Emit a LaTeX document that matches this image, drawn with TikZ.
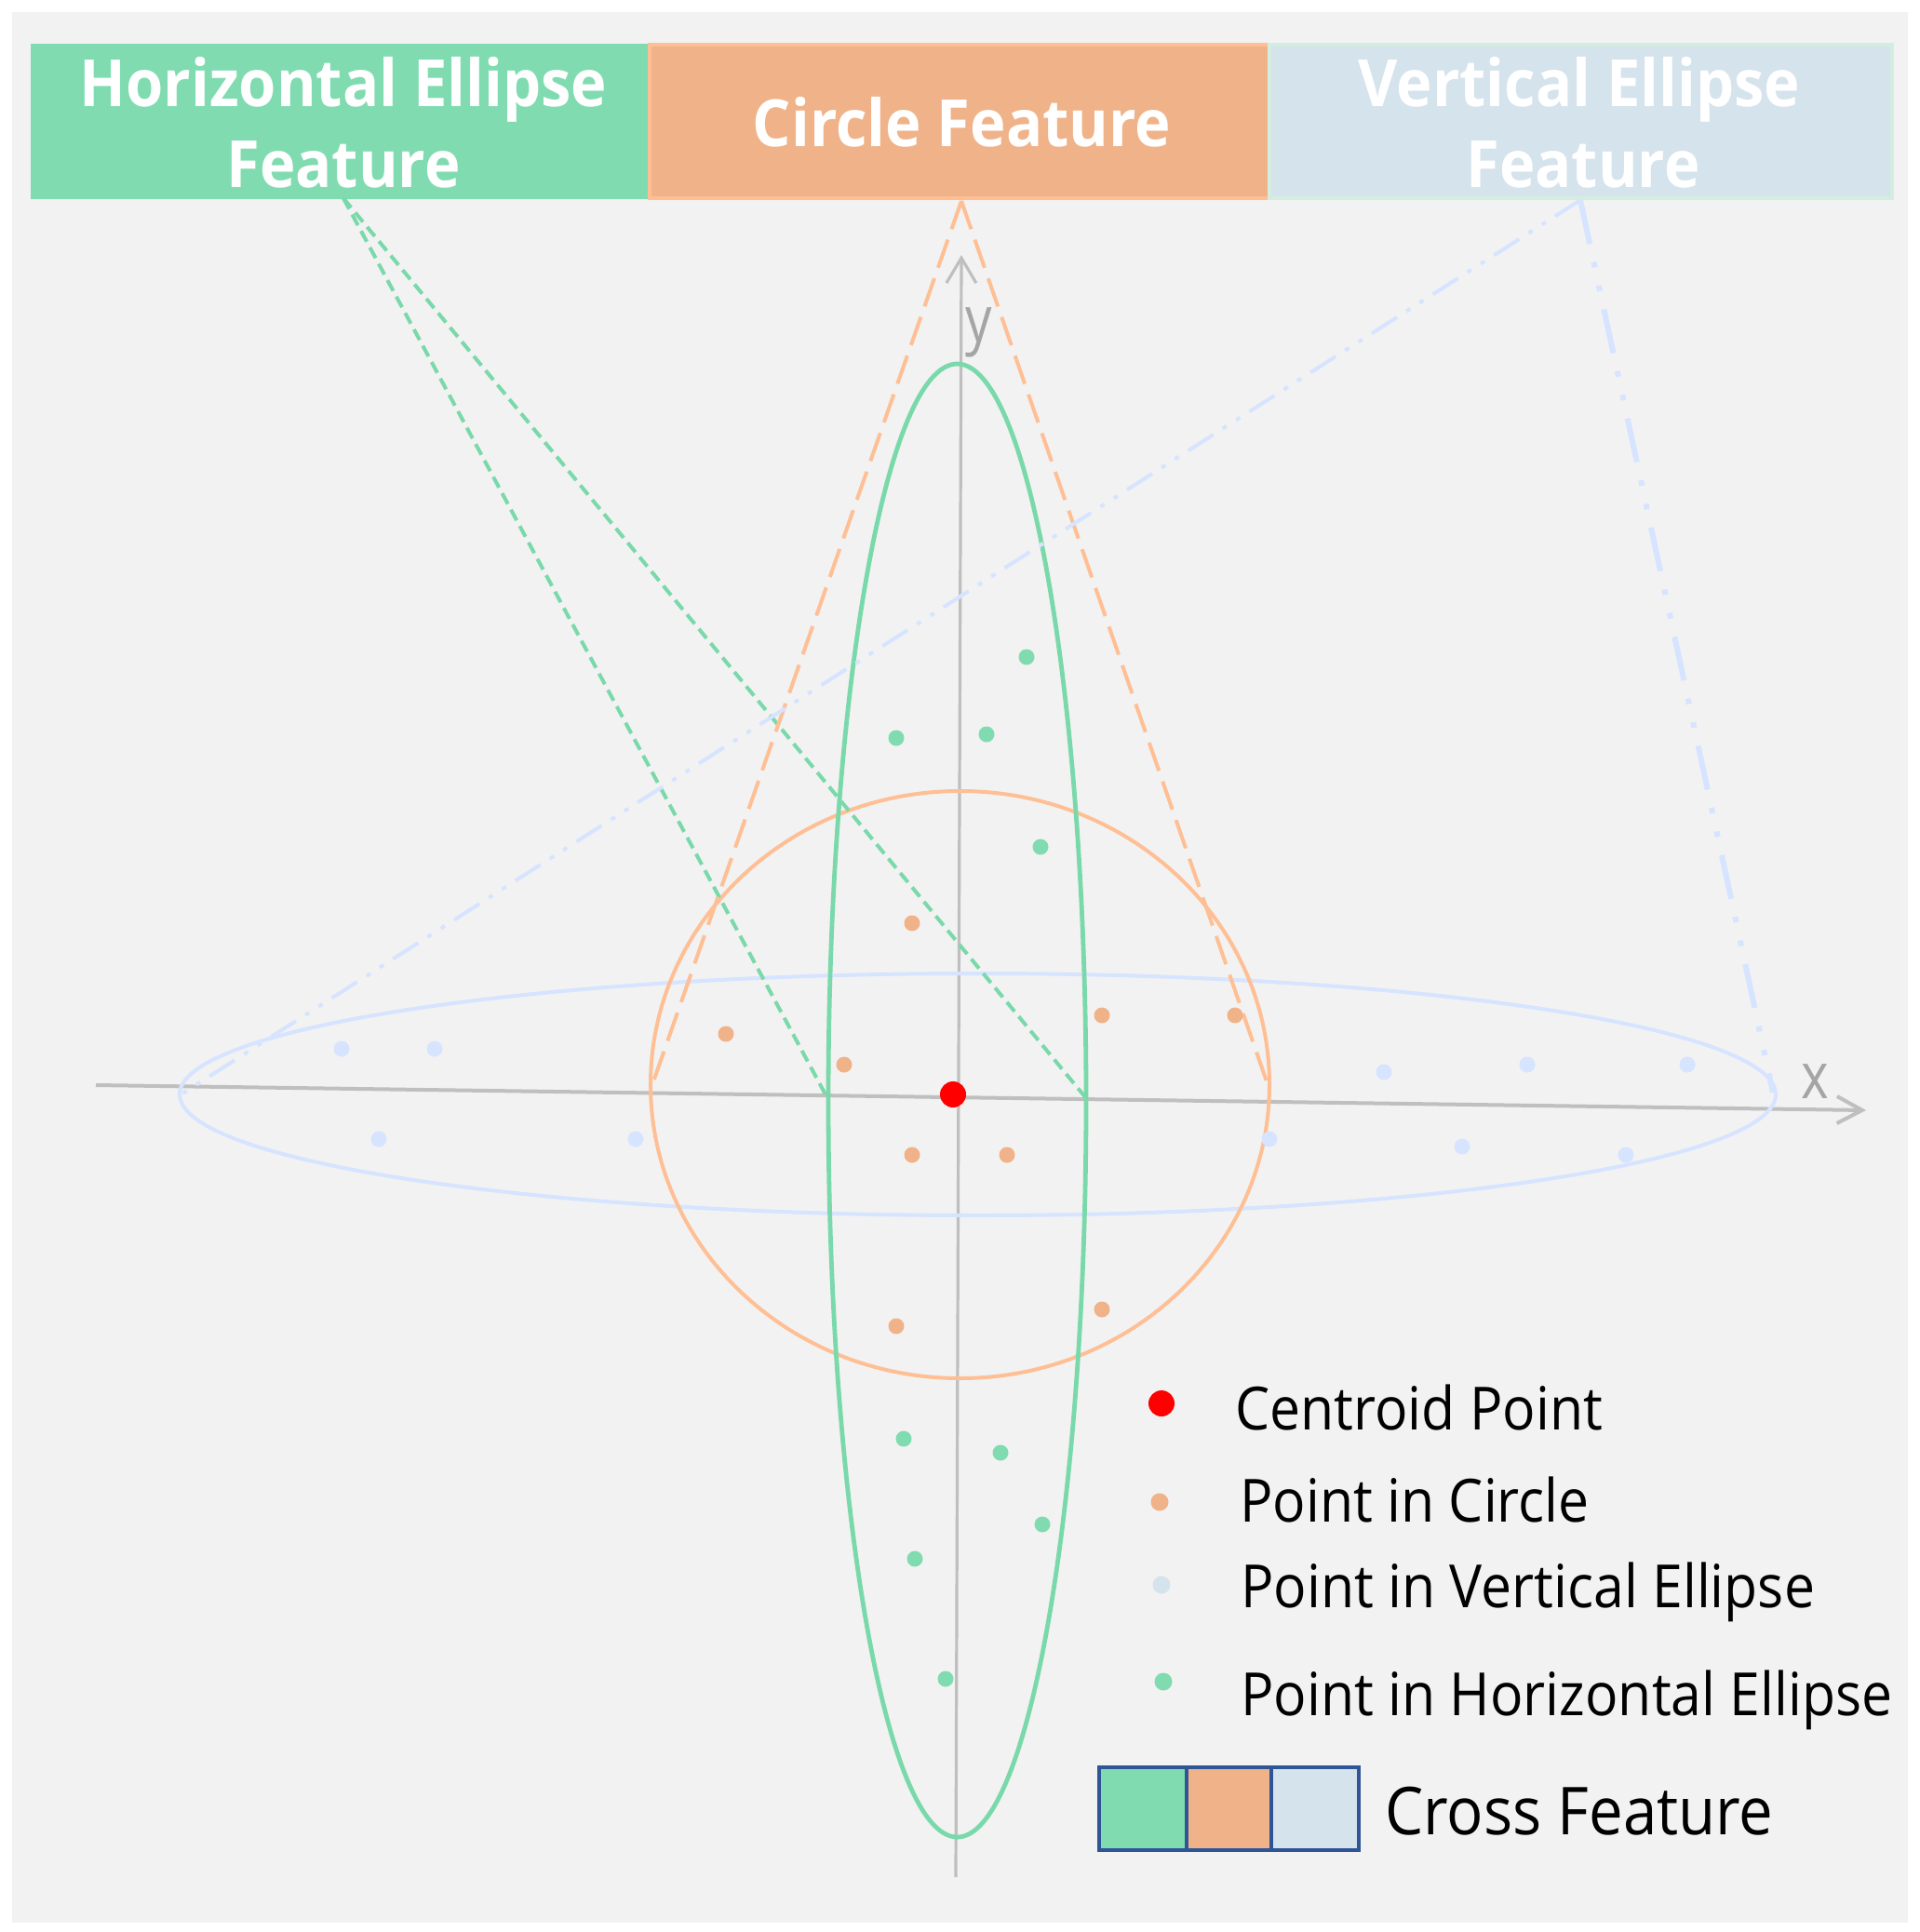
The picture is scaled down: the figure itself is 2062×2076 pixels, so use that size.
\documentclass[tikz,border=0pt]{standalone}
\usepackage{fontspec}
\setmainfont{Open Sans}
\newfontfamily\tfont{Open Sans}[FakeStretch=0.93]
\newfontfamily\lfont{Open Sans}[FakeStretch=0.92]
\newfontfamily\afont{Open Sans}[FakeStretch=0.82]
\usetikzlibrary{arrows.meta}
\definecolor{bggray}{HTML}{F2F2F2}
\definecolor{hgreen}{HTML}{80DCB0}
\definecolor{hgreenl}{HTML}{7AD9AA}
\definecolor{corange}{HTML}{F0B389}
\definecolor{corangel}{HTML}{FFBF95}
\definecolor{vblue}{HTML}{D5E3EC}
\definecolor{vbluel}{HTML}{D6E4FF}
\definecolor{vmint}{HTML}{D3EEDE}
\definecolor{axgray}{HTML}{BFBFBF}
\definecolor{labgray}{HTML}{A5A5A5}
\definecolor{legblue}{HTML}{2F5597}
\tikzset{
  titlebox/.style={rectangle, minimum height=82.5pt, inner sep=0pt},
  titletext/.style={text=white, font=\tfont\bfseries\fontsize{35}{42}\selectfont, inner sep=0pt, anchor=base},
  legtext/.style={text=black, font=\lfont\fontsize{32}{38}\selectfont, inner sep=0pt, anchor=base west},
  axislabel/.style={text=labgray, font=\afont\fontsize{34.5}{40}\selectfont, inner sep=0pt, anchor=base west},
  pt/.style={circle, inner sep=0pt, minimum size=8.5pt},
  gpt/.style={pt, fill=hgreen},
  opt/.style={pt, fill=corange},
  bpt/.style={pt, fill=vbluel},
  cell/.style={rectangle, inner sep=0pt, minimum height=44.5pt, draw=legblue, line width=2pt},
}
\begin{document}
\begin{tikzpicture}[x=0.5pt,y=-0.5pt]
\useasboundingbox (0,0) rectangle (2062,2076);
\fill[white] (0,0) rectangle (2062,2076);
\fill[bggray] (13,13) rectangle (2050,2066);

% title boxes
\node[titlebox, fill=hgreen, draw=hgreen, line width=1pt, minimum width=332pt] (th) at (366,130.5) {};
\node[titlebox, fill=corange, draw=corangel, line width=2pt, minimum width=333pt] (tc) at (1031,130.5) {};
\node[titlebox, fill=vblue, draw=vmint, line width=2pt, minimum width=334.5pt] (tv) at (1698.5,130.5) {};
\node[titletext] (th1) at (369,115) {Horizontal Ellipse};
\node[titletext] (th2) at (369,202) {Feature};
\node[titletext] (tc1) at (1033.5,158) {Circle Feature};
\node[titletext] (tv1) at (1697,115) {Vertical Ellipse};
\node[titletext] (tv2) at (1701,202) {Feature};

% axes
\coordinate (xs) at (103,1166);
\coordinate (xe) at (2005,1193);
\coordinate (ys) at (1027,2017);
\coordinate (ye) at (1033,274);
\draw[axgray, line width=2pt, -{Straight Barb[length=13.5pt,width=14.5pt]}] (xs) -- (xe);
\draw[axgray, line width=1.6pt, -{Straight Barb[length=13.5pt,width=16pt]}] (ys) -- (ye);
\node[axislabel] (lx) at (1935,1180) {x};
\node[axislabel] (ly) at (1037,367) {y};

% shapes
\draw[vbluel, line width=2pt] (1050.5,1176) ellipse [x radius=857.5, y radius=130];
\draw[corangel, line width=2pt] (1031.5,1165.5) ellipse [x radius=332.5, y radius=315.5];
\draw[hgreenl, line width=2.4pt] (1028.5,1182.5) ellipse [x radius=138.5, y radius=791.5];

% connector end points
\coordinate (gL) at (888,1178);
\coordinate (gR) at (1167,1180);
\coordinate (oL) at (700,1168);
\coordinate (oR) at (1363,1168);
\coordinate (bL) at (193,1177);
\coordinate (bR) at (1905,1174);
\coordinate (thb) at (369,213);
\coordinate (tcb) at (1033,216);
\coordinate (tvb) at (1698,215);

\draw[hgreenl, line width=2pt, dash pattern=on 6.5pt off 3.5pt] (thb) -- (gL);
\draw[hgreenl, line width=2pt, dash pattern=on 6.5pt off 3.5pt] (thb) -- (gR);
\draw[corangel, line width=2pt, dash pattern=on 16pt off 6pt] (tcb) -- (oL);
\draw[corangel, line width=2pt, dash pattern=on 16pt off 6pt] (tcb) -- (oR);
\draw[vbluel, line width=2pt, dash pattern=on 16pt off 6pt on 2.5pt off 6pt on 2.5pt off 6pt] (tvb) -- (bL);
\draw[vbluel, line width=3pt, dash pattern=on 24pt off 10pt on 3pt off 10pt on 3pt off 10pt] (tvb) -- (bR);

% points
\foreach \n/\x/\y in {1/1103/706, 2/963/793, 3/1060/789, 4/1118/910, 5/971/1546, 6/1075/1561, 7/1120/1638, 8/983/1675, 9/1016/1804}
  \node[gpt] (g\n) at (\x,\y) {};
\foreach \n/\x/\y in {1/980/992, 2/780/1111, 3/907/1144, 4/1184/1091, 5/1327/1091, 6/980/1241, 7/1082/1241, 8/963/1425, 9/1184/1407}
  \node[opt] (o\n) at (\x,\y) {};
\foreach \n/\x/\y in {1/367/1127, 2/467/1127, 3/407/1224, 4/683/1224, 5/1487/1152, 6/1641/1144, 7/1813/1144, 8/1364/1224, 9/1571/1232, 10/1747/1241}
  \node[bpt] (b\n) at (\x,\y) {};
\node[circle, inner sep=0pt, minimum size=14pt, fill=red] (cen) at (1024,1176) {};

% legend
\node[circle, inner sep=0pt, minimum size=14pt, fill=red] (lg1) at (1248,1508) {};
\node[circle, inner sep=0pt, minimum size=9.5pt, fill=corange] (lg2) at (1246,1614) {};
\node[circle, inner sep=0pt, minimum size=9.5pt, fill=vblue] (lg3) at (1248,1703) {};
\node[circle, inner sep=0pt, minimum size=9.5pt, fill=hgreen] (lg4) at (1250,1807) {};
\node[legtext] (lt1) at (1327,1536) {Centroid Point};
\node[legtext] (lt2) at (1332,1635) {Point in Circle};
\node[legtext] (lt3) at (1333,1727) {Point in Vertical Ellipse};
\node[legtext] (lt4) at (1333,1843) {Point in Horizontal Ellipse};
\node[cell, fill=hgreen, minimum width=47pt] (c1) at (1228,1943.5) {};
\node[cell, fill=corange, minimum width=45.5pt] (c2) at (1320.5,1943.5) {};
\node[cell, fill=vblue, minimum width=47pt] (c3) at (1413,1943.5) {};
\node[legtext, font=\lfont\fontsize{35.5}{40}\selectfont] (lt5) at (1488,1971) {Cross Feature};
\end{tikzpicture}
\end{document}
